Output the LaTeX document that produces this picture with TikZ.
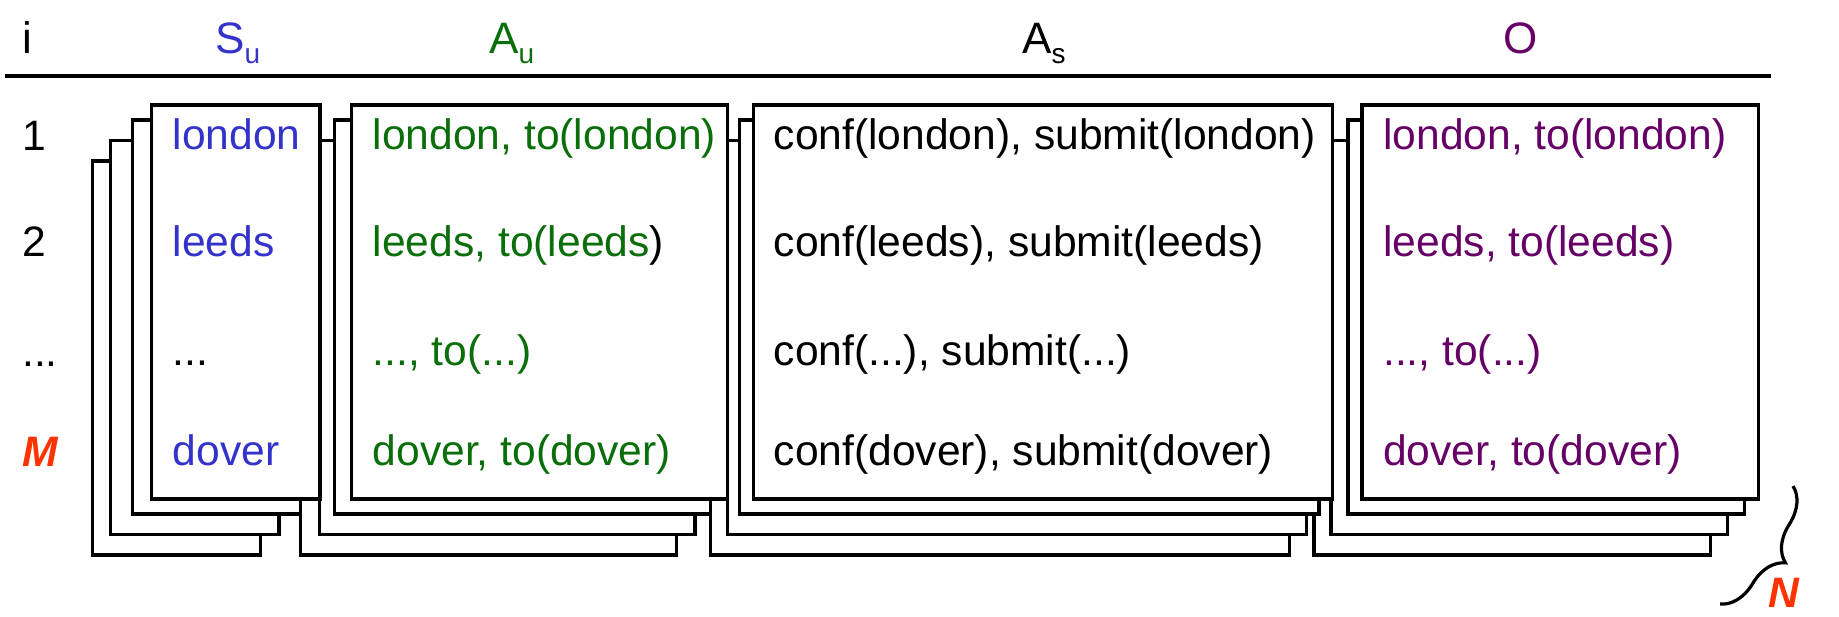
\documentclass[tikz,border=0pt]{standalone}
\usepackage{fontspec}
\setmainfont{Liberation Sans}
\usetikzlibrary{decorations.pathreplacing}

\definecolor{sublue}{RGB}{51,51,204}
\definecolor{augreen}{RGB}{10,110,10}
\definecolor{opurple}{RGB}{102,0,102}
\definecolor{idxred}{RGB}{255,51,0}

% one column: a stack of four sheets, drawn from the back sheet to the front one
% #1 = name, #2/#3 = left/right edge of the front sheet, #4..#6 = shifts of the rear sheets
\newcommand\sheetstack[6]{%
  \foreach \dx/\dy/\k in {#6/56/3,#5/35.5/2,#4/15/1,0/0/0}
    \draw[sheet] ({#2-\dx},{105+\dy}) rectangle ({#3-\dx},{499+\dy})
      coordinate (#1-\k);
}

\begin{document}
\begin{tikzpicture}[x=1pt,y=-1pt,
  sheet/.style={draw=black,line width=3.2pt,fill=white},
  cell/.style={anchor=base west,inner sep=0pt,font=\fontsize{42.6}{48}\selectfont},
  head/.style={anchor=base west,inner sep=0pt,font=\fontsize{44}{50}\selectfont},
  idx/.style={anchor=base west,inner sep=0pt,font=\fontsize{42.6}{48}\selectfont},
  idxmark/.style={anchor=base west,inner sep=0pt,text=idxred,
    font=\fontsize{42.6}{48}\selectfont\bfseries\itshape}]
\useasboundingbox (0,0) rectangle (1839,616);

% column headers and rule
\node[head] (hi) at (22,53) {i};
\node[head,text=sublue] (hsu) at (215,53) {S\raisebox{-10pt}{\fontsize{28}{28}\selectfont u}};
\node[head,text=augreen] (hau) at (489,53) {A\raisebox{-10pt}{\fontsize{28}{28}\selectfont u}};
\node[head] (has) at (1022,53) {A\raisebox{-10pt}{\fontsize{28}{28}\selectfont s}};
\node[head,text=opurple] (ho) at (1503,53) {O};
\coordinate (rl) at (5,76);
\coordinate (rr) at (1771,76);
\draw[line width=3.4pt] (rl) -- (rr);

% stacks, right to left so that each column overlaps the rear sheets of the next
\sheetstack{O}{1362}{1758.3}{14}{31}{48}
\sheetstack{As}{753.3}{1332.7}{13.8}{26}{43}
\sheetstack{Au}{351.7}{727.5}{17}{32.5}{51}
\sheetstack{Su}{151.7}{320}{19.3}{41}{59.5}

% row indices
\node[idx] (r1) at (22,150) {1};
\node[idx] (r2) at (22,256) {2};
\node[idx] (r3) at (22,366) {...};
\node[idxmark] (rm) at (22,466) {M};

% S_u
\node[cell,text=sublue] (su1) at (172.5,149) {london};
\node[cell,text=sublue] (su2) at (172.5,256) {leeds};
\node[cell] (su3) at (172.5,365) {...};
\node[cell,text=sublue] (su4) at (172.5,465) {dover};

% A_u
\node[cell,text=augreen] (au1) at (372.5,149) {london, to(london)};
\node[cell,text=augreen] (au2) at (372.5,256) {leeds, to(leeds\textcolor{black}{)}};
\node[cell,text=augreen] (au3) at (372.5,365) {..., to(...)};
\node[cell,text=augreen] (au4) at (372.5,465) {dover, to(dover)};

% A_s
\node[cell] (as1) at (773.5,149) {conf(london), submit(london)};
\node[cell] (as2) at (773.5,256) {conf(leeds), submit(leeds)};
\node[cell] (as3) at (773.5,365) {conf(...), submit(...)};
\node[cell] (as4) at (773.5,465) {conf(dover), submit(dover)};

% O
\node[cell,text=opurple] (o1) at (1383,149) {london, to(london)};
\node[cell,text=opurple] (o2) at (1383,256) {leeds, to(leeds)};
\node[cell,text=opurple] (o3) at (1383,365) {..., to(...)};
\node[cell,text=opurple] (o4) at (1383,465) {dover, to(dover)};

% brace over the N copies
\coordinate (bt) at (1793,486);
\coordinate (bb) at (1720,604);
\draw[line width=3.2pt,decorate,decoration={brace,amplitude=34pt}] (bt) -- (bb);
\node[idxmark] (nn) at (1768,607) {N};
\end{tikzpicture}
\end{document}
